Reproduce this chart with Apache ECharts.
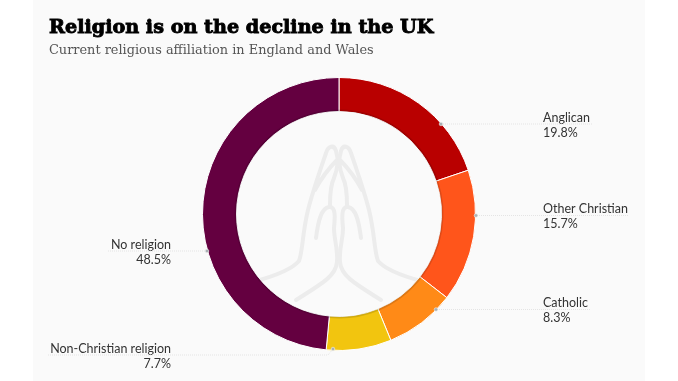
<!DOCTYPE html>
<html>
<head>
<meta charset="utf-8">
<style>
html,body{margin:0;padding:0;background:#fff;}
#panel{position:absolute;left:33px;top:0;width:612px;height:381px;background:#fafafa;}
#main{position:absolute;left:0;top:0;width:678px;height:381px;}
</style>
<script src="https://cdn.jsdelivr.net/npm/echarts@6/dist/echarts.min.js"></script>
</head>
<body>
<div id="panel"></div>
<div id="main"></div>
<script>
var categories = ['Anglican', 'Other Christian', 'Catholic', 'Non-Christian religion', 'No religion'];
var shares = [19.8, 15.7, 8.3, 7.7, 48.5];
var colors = ['#b90000', '#ff551b', '#ff8a17', '#f2c50f', '#640040'];

// where each callout text sits, same order as categories
var labelAnchors = [
    {x: 543, y: 125, align: 'left'},
    {x: 543, y: 216.5, align: 'left'},
    {x: 543, y: 310.5, align: 'left'},
    {x: 171, y: 356, align: 'right'},
    {x: 171, y: 252, align: 'right'}
];
// leader lines: [x,y] points, the last one carries the dot
var leaders = [
    [[592, 124], [441, 124]],
    [[628, 215.5], [476, 215.5]],
    [[590, 309.5], [436, 309.5]],
    [[48, 355], [328, 355], [333, 349]],
    [[108, 251], [207, 251]]
];

var handLeft = 'M256 281C278 275 293 268 299 261C303 250 302 235 308 210C313 190 322 165 326 153C328 146 334 144 336 151C339 160 338 168 334 178C331 184 330 190 330 205'
    + 'M337 160C331 166 322 177 315 190'
    + 'M316 238C318 222 321 208 329 207C336 206 335 218 334 228C334 240 338 248 337 262C336 275 325 282 296 300';
echarts.graphic.registerShape('handLeft', echarts.graphic.extendPath(handLeft, {}));

var handGraphics = [
    {type: 'handLeft', z: -5, silent: true,
        style: {fill: null, stroke: '#ececec', lineWidth: 4, lineCap: 'round'}},
    {type: 'handLeft', z: -5, silent: true, originX: 338.5, originY: 0, scaleX: -1,
        style: {fill: null, stroke: '#ececec', lineWidth: 4, lineCap: 'round'}}
];

var leaderGraphics = [];
leaders.forEach(function (pts) {
    leaderGraphics.push({type: 'polyline', z: 5, silent: true, shape: {points: pts},
        style: {fill: null, stroke: '#e4e4e4', lineWidth: 1, lineDash: [1, 1]}});
    var end = pts[pts.length - 1];
    leaderGraphics.push({type: 'circle', z: 6, silent: true, shape: {cx: end[0], cy: end[1], r: 1.8},
        style: {fill: '#a9b0b3', stroke: '#eeeeee', lineWidth: 0.6}});
});

var pieData = categories.map(function (name, i) {
    return {name: name, value: shares[i], itemStyle: {color: colors[i]}};
});

var chart = echarts.init(document.getElementById('main'), null, {renderer: 'canvas'});
chart.setOption({
    animation: false,
    backgroundColor: 'transparent',
    title: [
        {text: 'Religion is on the decline in the UK', left: 44, top: 14,
            textStyle: {fontFamily: 'DejaVu Serif', fontWeight: 'bold', fontSize: 19.2, color: '#000',
                textBorderColor: '#000', textBorderWidth: 0.9}},
        {text: 'Current religious affiliation in England and Wales', left: 44, top: 39,
            textStyle: {fontFamily: 'DejaVu Serif', fontWeight: 'normal', fontSize: 12.9, color: '#555'}}
    ],
    graphic: handGraphics.concat(leaderGraphics),
    series: [
        {
            type: 'pie',
            center: [339, 214],
            radius: [102.5, 136.5],
            startAngle: 90,
            clockwise: true,
            silent: true,
            data: pieData,
            itemStyle: {borderColor: '#fff', borderWidth: 1},
            label: {
                show: true,
                position: 'outside',
                formatter: function (p) {
                    return '{n|' + p.name + '}\n{n|' + p.value + '%}';
                },
                rich: {n: {fontFamily: 'Lato', fontSize: 12.5, lineHeight: 15, color: '#333'}}
            },
            labelLine: {show: false},
            labelLayout: function (p) {
                var a = labelAnchors[p.dataIndex];
                return {x: a.x, y: a.y, align: a.align, verticalAlign: 'middle'};
            }
        },
        {
            // slight dark edge round the hole
            type: 'pie',
            center: [339, 214],
            radius: [102.5, 104.5],
            startAngle: 90,
            silent: true,
            z: 3,
            label: {show: false},
            labelLine: {show: false},
            itemStyle: {color: 'rgba(0,0,0,0.13)'},
            data: shares
        }
    ]
});
</script>
</body>
</html>
